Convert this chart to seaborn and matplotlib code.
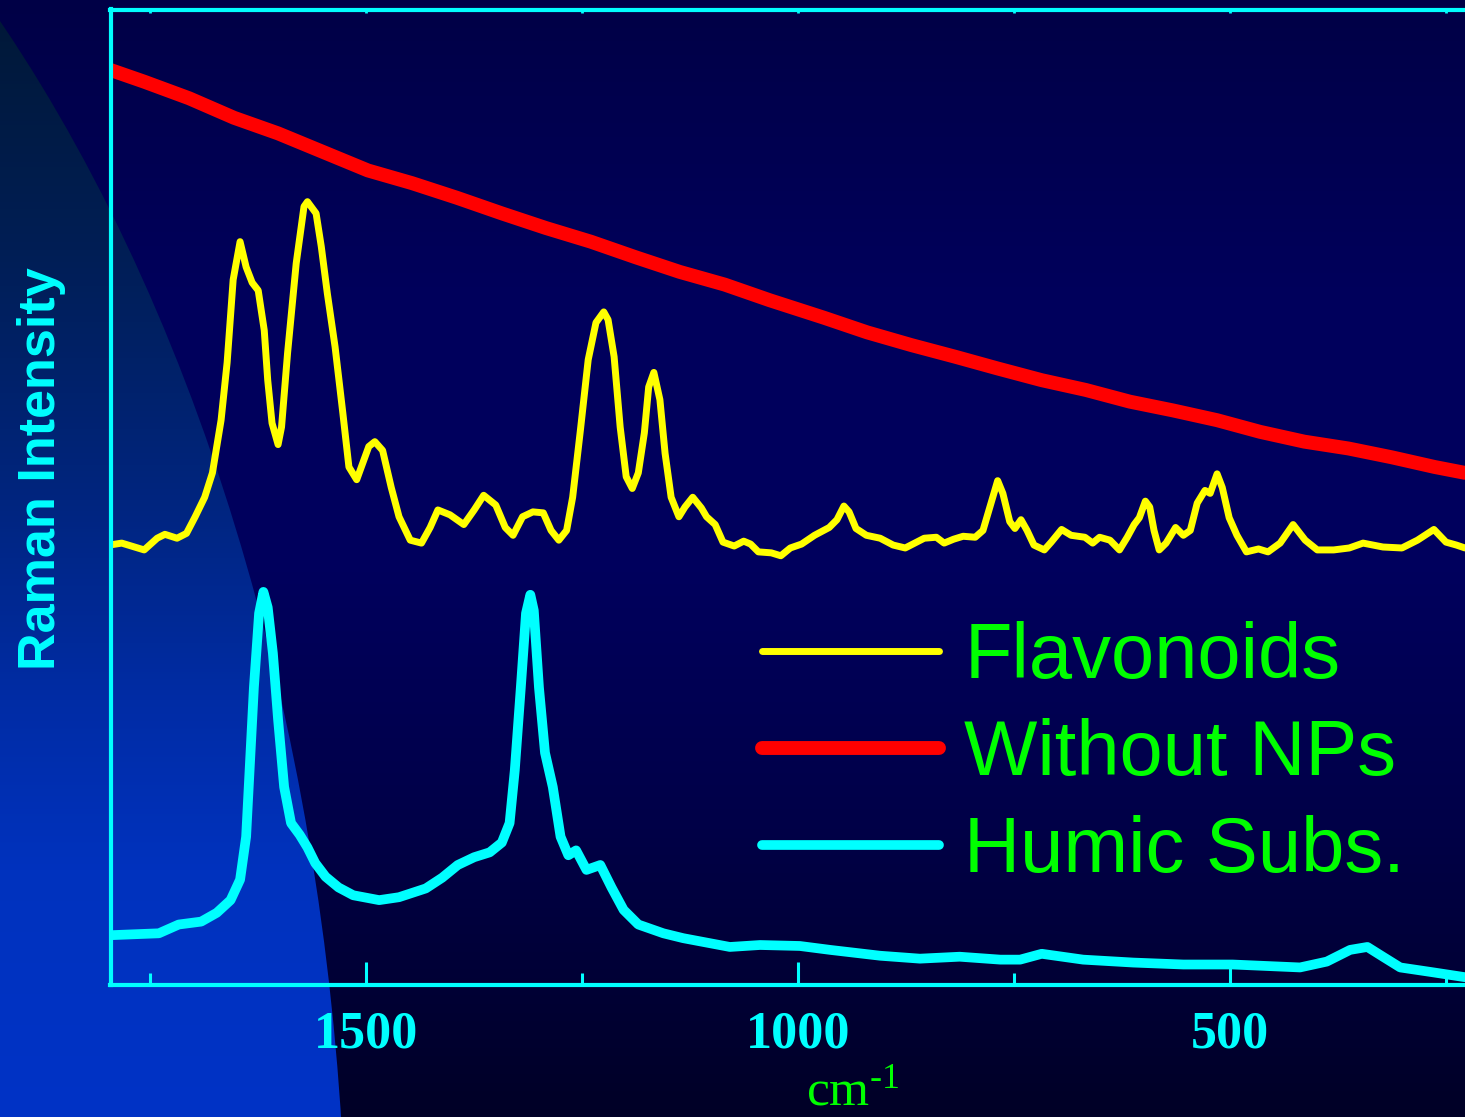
import numpy as np
import pandas as pd
import matplotlib
matplotlib.use("Agg")
import matplotlib.pyplot as plt
import seaborn as sns
from matplotlib.patches import Ellipse
from matplotlib.colors import to_rgb

# ---------------- data ----------------
flav_cm = [1797, 1783, 1757, 1742, 1733, 1719, 1708, 1698, 1687, 1678,
           1668, 1661, 1654, 1646, 1639, 1632, 1625, 1618, 1614, 1609,
           1602, 1598, 1591, 1581, 1572, 1568, 1558, 1552, 1545, 1536,
           1527, 1520, 1511, 1504, 1497, 1490, 1481, 1471, 1462, 1449,
           1436, 1426, 1417, 1403, 1387, 1375, 1364, 1350, 1339, 1330,
           1319, 1307, 1295, 1286, 1277, 1268, 1261, 1252, 1243, 1234,
           1225, 1220, 1213, 1206, 1199, 1192, 1185, 1178, 1173, 1167,
           1160, 1154, 1147, 1138, 1131, 1122, 1112, 1106, 1096, 1087,
           1074, 1063, 1055, 1046, 1031, 1020, 1009, 996, 981, 964,
           955, 947, 941, 933, 921, 905, 890, 876, 865, 854,
           840, 831, 820, 809, 795, 786, 778, 769, 763, 755,
           749, 742, 735, 727, 715, 707, 695, 684, 668, 659,
           651, 639, 628, 619, 611, 605, 598, 593, 588, 582,
           574, 563, 554, 546, 538, 529, 523, 515, 509, 501,
           492, 481, 467, 456, 442, 427, 413, 399, 380, 362,
           346, 323, 301, 283, 264, 250, 238, 228]
flav_int = [45.1, 45.3, 44.6, 45.8, 46.2, 45.8, 46.3, 48.0, 50.0, 52.5,
            57.9, 63.8, 72.3, 76.2, 73.6, 72.0, 71.2, 67.1, 62.0, 57.6,
            55.4, 57.2, 64.8, 74.0, 79.8, 80.3, 79.1, 75.7, 70.9, 65.4,
            58.6, 53.1, 51.8, 53.5, 55.2, 55.7, 54.8, 51.0, 48.0, 45.6,
            45.3, 46.9, 48.7, 48.2, 47.2, 48.7, 50.2, 49.2, 46.9, 46.1,
            48.0, 48.5, 48.4, 46.6, 45.6, 46.6, 50.0, 56.9, 64.1, 67.9,
            69.0, 68.2, 64.4, 57.2, 52.1, 50.9, 52.5, 56.6, 61.3, 62.8,
            60.0, 54.5, 50.0, 48.0, 49.0, 50.0, 48.9, 48.0, 47.2, 45.4,
            45.0, 45.5, 45.2, 44.4, 44.3, 44.0, 44.8, 45.2, 46.1, 46.9,
            47.7, 49.1, 48.5, 46.8, 46.1, 45.8, 45.1, 44.8, 45.3, 45.8,
            45.9, 45.3, 45.7, 46.0, 45.9, 46.6, 49.0, 51.7, 50.4, 47.5,
            46.8, 47.7, 46.6, 45.1, 44.6, 45.4, 46.7, 46.1, 45.9, 45.3,
            45.9, 45.6, 44.6, 45.9, 47.2, 47.9, 49.6, 49.0, 46.6, 44.6,
            45.3, 46.9, 46.1, 46.6, 49.4, 50.7, 50.4, 52.4, 51.0, 47.9,
            46.1, 44.4, 44.7, 44.4, 45.3, 47.2, 45.6, 44.6, 44.6, 44.8,
            45.3, 44.9, 44.8, 45.6, 46.7, 45.4, 45.1, 44.8]

red_cm = [1796, 1757, 1705, 1653, 1602, 1550, 1498, 1447, 1395, 1343,
          1292, 1240, 1188, 1137, 1085, 1033, 970, 920, 869, 818,
          769, 718, 667, 616, 566, 515, 465, 414, 363, 313, 263, 228]
red_int = [93.8, 92.6, 90.9, 88.9, 87.3, 85.4, 83.5, 82.2, 80.7, 79.1,
           77.6, 76.2, 74.6, 73.1, 71.8, 70.2, 68.4, 66.9, 65.6, 64.4,
           63.2, 62.0, 61.0, 59.8, 58.9, 57.9, 56.7, 55.7, 55.0, 54.1,
           53.1, 52.5]

hum_cm = [1797, 1769, 1740, 1717, 1691, 1673, 1657, 1646, 1639, 1635,
          1630, 1624, 1619, 1614, 1608, 1602, 1595, 1587, 1577, 1568,
          1559, 1547, 1532, 1515, 1485, 1462, 1431, 1412, 1394, 1375,
          1357, 1343, 1334, 1328, 1321, 1315, 1310, 1306, 1300, 1293,
          1284, 1275, 1266, 1257, 1245, 1229, 1216, 1202, 1185, 1156,
          1133, 1079, 1044, 998, 963, 905, 859, 813, 766, 743,
          718, 670, 612, 554, 497, 419, 388, 361, 341, 323,
          303, 265, 228]
hum_int = [5.1, 5.2, 5.3, 6.2, 6.5, 7.4, 8.7, 10.8, 15.2, 22.0,
           30.5, 38.1, 40.3, 38.7, 34.0, 27.2, 20.3, 16.6, 15.4, 14.1,
           12.5, 11.1, 10.0, 9.2, 8.7, 9.0, 9.9, 11.0, 12.3, 13.1,
           13.6, 14.6, 16.6, 22.0, 30.5, 38.1, 40.0, 38.4, 30.5, 23.8,
           20.3, 15.2, 13.3, 13.8, 11.8, 12.3, 10.0, 7.7, 6.2, 5.3,
           4.8, 3.9, 4.1, 4.0, 3.6, 3.0, 2.7, 2.9, 2.6, 2.6,
           3.2, 2.6, 2.3, 2.1, 2.1, 1.8, 2.4, 3.6, 3.9, 2.9,
           1.8, 1.3, 0.8]

series_labels = ["Flavonoids", "Without NPs", "Humic Subs."]
major_ticks = [1500, 1000, 500]
major_tick_labels = ["1500", "1000", "500"]
minor_ticks = [1750, 1250, 750, 250]
x_range = (1796, 228)
y_range = (0, 100)

# ---------------- style ----------------
sns.set_style("ticks")
plt.rcParams['font.family'] = ['Liberation Sans', 'DejaVu Sans']
plt.rcParams['mathtext.fontset'] = 'custom'
plt.rcParams['mathtext.rm'] = 'Liberation Serif'
plt.rcParams['mathtext.it'] = 'Liberation Serif:italic'
plt.rcParams['mathtext.bf'] = 'Liberation Serif:bold'

CYAN = '#00FFFF'
GREEN = '#00FF00'
W, H = 1465, 1117
fig = plt.figure(figsize=(W / 100, H / 100), dpi=100)

# ---------------- slide background ----------------
bg = fig.add_axes([0, 0, 1, 1], zorder=0)
bg.set_xlim(0, W)
bg.set_ylim(H, 0)
bg.axis('off')


def vgrad(stops):
    ys = np.arange(H)
    pos = [p for p, _ in stops]
    cols = np.array([to_rgb(c) for _, c in stops])
    img = np.stack([np.interp(ys, pos, cols[:, k]) for k in range(3)], axis=-1)
    return np.repeat(img[:, None, :], 2, axis=1)


navy = vgrad([(0, '#000046'), (300, '#00005C'), (560, '#00005E'),
              (820, '#000048'), (1117, '#000026')])
bg.imshow(navy, extent=(0, W, H, 0), aspect='auto', interpolation='bilinear')
blue = vgrad([(0, '#001836'), (250, '#001E55'), (500, '#00257F'),
              (700, '#002CA5'), (870, '#0032BE'), (1117, '#0033C6')])
im = bg.imshow(blue, extent=(0, W, H, 0), aspect='auto', interpolation='bilinear')
ell = Ellipse((-700, 1300), 2094, 3440, transform=bg.transData,
              facecolor='none', edgecolor='none')
bg.add_patch(ell)
im.set_clip_path(ell)

# ---------------- main axes ----------------
ax = fig.add_axes([110.5 / W, 1 - 985 / H, (W - 110.5) / W, (985 - 9.5) / H], zorder=1)
ax.set_facecolor('none')

df_f = pd.DataFrame({"cm": flav_cm, "I": flav_int})
df_r = pd.DataFrame({"cm": red_cm, "I": red_int})
df_h = pd.DataFrame({"cm": hum_cm, "I": hum_int})

common = dict(estimator=None, sort=False, solid_capstyle='round', solid_joinstyle='round')
sns.lineplot(data=df_f, x="cm", y="I", ax=ax, color='#FFFF00', linewidth=5.0,
             label=series_labels[0], **common)
sns.lineplot(data=df_r, x="cm", y="I", ax=ax, color='#FF0000', linewidth=10.0,
             label=series_labels[1], **common)
sns.lineplot(data=df_h, x="cm", y="I", ax=ax, color=CYAN, linewidth=7.0,
             label=series_labels[2], **common)

ax.set_xlim(*x_range)
ax.set_ylim(*y_range)

for side in ['left', 'bottom', 'top']:
    ax.spines[side].set_color(CYAN)
    ax.spines[side].set_linewidth(3)
ax.spines['right'].set_visible(False)

ax.set_xticks(major_ticks, major_tick_labels, fontfamily='Liberation Serif',
              fontweight='bold', fontsize=37.5, color=CYAN)
ax.set_xticks(minor_ticks, minor=True)
ax.set_yticks([])
ax.tick_params(axis='x', which='major', direction='in', length=16.5, width=2.2,
               color=CYAN, pad=18)
ax.tick_params(axis='x', which='minor', direction='in', length=8.5, width=2.2,
               color=CYAN)

sec = ax.secondary_xaxis('top')
sec.set_xticks(major_ticks + minor_ticks)
sec.tick_params(direction='in', length=3, width=2, color=CYAN, labeltop=False)
sec.spines['top'].set_visible(False)

ax.set_xlabel(r'cm$^{\text{-1}}$', fontfamily='Liberation Serif', fontsize=37, color=GREEN)
ax.xaxis.set_label_coords(0.548, -0.086)
ax.set_ylabel('Raman Intensity', fontfamily='Liberation Sans', fontweight='bold',
              fontsize=37.5, color=CYAN)
ax.yaxis.set_label_coords(-0.0325, 0.5295)

leg = ax.legend(loc='upper left', bbox_to_anchor=(762 / W, 1 - 621 / H),
                bbox_transform=fig.transFigure, frameon=False, borderpad=0,
                borderaxespad=0, handlelength=2.27, handletextpad=0.33,
                labelspacing=0.31, prop={'family': 'Liberation Sans', 'size': 56},
                labelcolor=GREEN)

fig.savefig("out.png", dpi=100)
